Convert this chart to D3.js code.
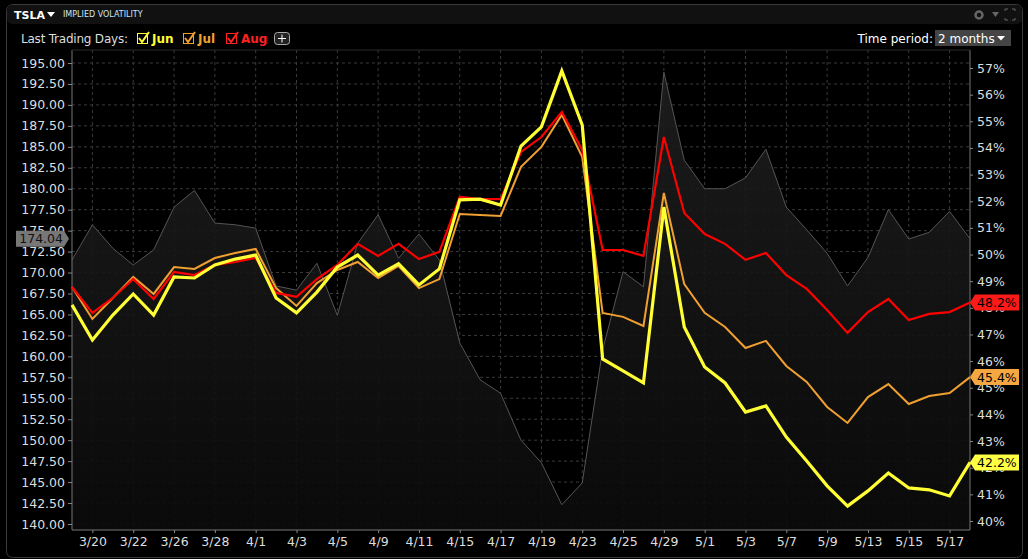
<!DOCTYPE html>
<html><head><meta charset="utf-8">
<script src="https://cdn.jsdelivr.net/npm/d3@7"></script>
<style>body{margin:0;background:#000;overflow:hidden}svg{display:block;font-family:"DejaVu Sans",sans-serif}</style>
</head><body><svg id="c" width="1028" height="559"></svg>
<script>
const dates=["3/19","3/20","3/21","3/22","3/25","3/26","3/27","3/28","3/29","4/1","4/2","4/3","4/4","4/5","4/8","4/9","4/10","4/11","4/12","4/15","4/16","4/17","4/18","4/19","4/22","4/23","4/24","4/25","4/26","4/29","4/30","5/1","5/2","5/3","5/6","5/7","5/8","5/9","5/10","5/13","5/14","5/15","5/16","5/17","5/20"];
const tickLabels=["3/20","3/22","3/26","3/28","4/1","4/3","4/5","4/9","4/11","4/15","4/17","4/19","4/23","4/25","4/29","5/1","5/3","5/7","5/9","5/13","5/15","5/17"];
const price=[171.5,175.7,172.9,170.9,172.7,177.8,179.8,175.9,175.7,175.3,168.4,167.9,171.1,164.9,173.5,176.9,171.7,174.6,171.5,161.6,157.2,155.6,150.0,147.3,142.3,144.9,160.8,170.1,168.3,193.9,183.4,180.0,180.0,181.3,184.7,177.8,175.1,172.3,168.4,171.8,177.5,174.0,174.8,177.3,174.04];
const jun=[48.11,46.79,47.73,48.52,47.73,49.16,49.12,49.61,49.83,49.98,48.37,47.81,48.59,49.53,49.98,49.23,49.65,48.86,49.46,52.05,52.08,51.86,54.07,54.79,56.89,54.86,46.08,45.63,45.18,51.78,47.28,45.78,45.18,44.09,44.32,43.15,42.25,41.32,40.56,41.13,41.80,41.24,41.17,40.94,42.2];
const jul=[48.78,47.58,48.37,49.16,48.52,49.53,49.46,49.87,50.06,50.21,48.74,48.07,48.93,49.42,49.72,49.12,49.57,48.74,49.08,51.52,51.48,51.45,53.29,54.04,55.24,53.66,47.81,47.66,47.32,52.31,48.89,47.81,47.28,46.49,46.76,45.82,45.22,44.28,43.68,44.65,45.14,44.39,44.69,44.80,45.4];
const aug=[48.78,47.81,48.37,49.08,48.33,49.35,49.23,49.61,49.72,49.87,48.56,48.41,49.08,49.61,50.40,49.95,50.40,49.83,50.10,52.16,52.08,52.08,53.85,54.41,55.35,53.92,50.17,50.17,49.95,54.41,51.56,50.77,50.40,49.80,50.06,49.23,48.71,47.92,47.06,47.84,48.33,47.54,47.77,47.84,48.2];
const leftTicks=d3.range(140,195.01,2.5);
const rightTicks=d3.range(40,57.01,1);
const series=[{name:"Jul",v:jul,c:"#f0a030",w:2,bg:"#f5a742"},{name:"Aug",v:aug,c:"#ff0000",w:2.2,bg:"#ff1a1a"},{name:"Jun",v:jun,c:"#ffff33",w:3.2,bg:"#ffff44"}];

const svg=d3.select("#c");
const L=72,R=970,T=50,B=530,FS=12;
const x=d3.scaleLinear().domain([0,dates.length-1]).range([L,R]);
const yP=d3.scaleLinear().domain([140,195]).range([524,63]);
const yV=d3.scaleLinear().domain([40,57]).range([521,68]);

svg.append("rect").attr("width",1028).attr("height",559).attr("fill","#000");
svg.append("rect").attr("x",6.5).attr("y",4.5).attr("width",1016).attr("height",553).attr("rx",6).attr("fill","#000").attr("stroke","#3a3a3a");
svg.append("rect").attr("x",7).attr("y",5).attr("width",1015).attr("height",19).attr("rx",5).attr("fill","#111");
svg.append("text").attr("x",14).attr("y",19).attr("fill","#fff").attr("font-size",11).attr("font-weight","bold").text("TSLA");
svg.append("path").attr("d","M47,12 l8,0 l-4,5z").attr("fill","#fff");
svg.append("text").attr("x",63).attr("y",17).attr("fill","#cfe3f0").attr("font-size",8).text("IMPLIED VOLATILITY");
svg.append("circle").attr("cx",979).attr("cy",15).attr("r",3.5).attr("fill","none").attr("stroke","#666").attr("stroke-width",2.5);
svg.append("path").attr("d","M992,12 l7,0 l-3.5,5z").attr("fill","#666");
svg.append("path").attr("d","M1005,11 v-2 h3 M1012,9 h3 v2 M1015,18 v2 h-3 M1008,20 h-3 v-2").attr("stroke","#666").attr("fill","none");

svg.append("text").attr("x",21).attr("y",43).attr("fill","#ddd").attr("font-size",FS).attr("textLength",107).text("Last Trading Days:");
const lg=[["Jun","#ffff33",137],["Jul","#f0a030",183],["Aug","#ff2020",226]];
lg.forEach(([n,c,lx])=>{
  svg.append("rect").attr("x",lx+0.5).attr("y",33.5).attr("width",10).attr("height",10).attr("fill","none").attr("stroke",c);
  svg.append("path").attr("d",`M${lx+2},38 l3,4 l7,-10`).attr("stroke",c).attr("stroke-width",2).attr("fill","none");
  svg.append("text").attr("x",lx+15).attr("y",43).attr("fill",c).attr("font-size",FS).attr("font-weight","bold").text(n);
});
svg.append("rect").attr("x",274.5).attr("y",32.5).attr("width",15).attr("height",12).attr("rx",3).attr("fill","#222").attr("stroke","#aaa");
svg.append("path").attr("d","M278,38.5 h8 M282,34.5 v8").attr("stroke","#fff");
svg.append("text").attr("x",933).attr("y",43).attr("text-anchor","end").attr("fill","#fff").attr("font-size",FS).text("Time period:");
svg.append("rect").attr("x",935).attr("y",30).attr("width",76).attr("height",16).attr("fill","#444");
svg.append("text").attr("x",938).attr("y",43).attr("fill","#fff").attr("font-size",FS).text("2 months");
svg.append("path").attr("d","M997,36 l8,0 l-4,4.5z").attr("fill","#fff");

const g=svg.append("g");
leftTicks.forEach(t=>g.append("line").attr("x1",L).attr("x2",R).attr("y1",yP(t)).attr("y2",yP(t)).attr("stroke","#3a3a3a").attr("stroke-dasharray","3,3"));
tickLabels.forEach(t=>{const i=dates.indexOf(t);g.append("line").attr("x1",x(i)).attr("x2",x(i)).attr("y1",T).attr("y2",B).attr("stroke","#3a3a3a").attr("stroke-dasharray","3,3");});

const grad=svg.append("defs").append("linearGradient").attr("id","pg").attr("x1",0).attr("x2",0).attr("y1",0).attr("y2",1);
grad.append("stop").attr("offset","0").attr("stop-color","#1e1e1e");
grad.append("stop").attr("offset","1").attr("stop-color","#0b0b0b");
svg.append("path").datum(price).attr("fill","url(#pg)").attr("opacity",0.9)
 .attr("d",d3.area().x((d,i)=>x(i)).y0(B).y1(d=>yP(d)));
svg.append("path").datum(price).attr("fill","none").attr("stroke","#555").attr("stroke-width",1)
 .attr("d",d3.line().x((d,i)=>x(i)).y(d=>yP(d)));

svg.append("line").attr("x1",L).attr("x2",L).attr("y1",T).attr("y2",B).attr("stroke","#777");
svg.append("line").attr("x1",R).attr("x2",R).attr("y1",T).attr("y2",B).attr("stroke","#777");
svg.append("line").attr("x1",L).attr("x2",R).attr("y1",B).attr("y2",B).attr("stroke","#777");
svg.append("line").attr("x1",L).attr("x2",R).attr("y1",T).attr("y2",T).attr("stroke","#2a2a2a");

const ax=svg.append("g").attr("transform",`translate(${L},0)`).call(d3.axisLeft(yP).tickValues(leftTicks).tickFormat(d3.format(".2f")).tickSize(4).tickPadding(3));
const ax2=svg.append("g").attr("transform",`translate(${R},0)`).call(d3.axisRight(yV).tickValues(rightTicks).tickFormat(d=>d+"%").tickSize(3).tickPadding(4));
const ax3=svg.append("g").attr("transform",`translate(0,${B})`).call(d3.axisBottom(x).tickValues(tickLabels.map(t=>dates.indexOf(t))).tickFormat(i=>dates[i]).tickSize(3).tickPadding(4));
[ax,ax2,ax3].forEach(a=>{a.select(".domain").remove();a.selectAll("line").attr("stroke","#888");a.selectAll("text").attr("fill","#ddd").attr("font-size",12.5).attr("font-family","DejaVu Sans");});

series.forEach(s=>{
  svg.append("path").datum(s.v).attr("fill","none").attr("stroke",s.c).attr("stroke-width",s.w).attr("stroke-linejoin","miter")
   .attr("d",d3.line().x((d,i)=>x(i)).y(d=>yV(d)));
});
series.forEach(s=>{
  const v=s.v[s.v.length-1],yy=yV(v);
  svg.append("path").attr("d",`M${R},${yy} l5,-8 h44 v16 h-44z`).attr("fill",s.bg);
  svg.append("text").attr("x",R+7).attr("y",yy+4.5).attr("fill","#000").attr("font-size",12.5).text(v.toFixed(1)+"%");
});
const pv=price[price.length-1],py=yP(pv);
svg.append("path").attr("d",`M${L-3},${py} l-5,-8 h-48 v16 h48z`).attr("fill","#777");
svg.append("text").attr("x",L-9).attr("y",py+4.5).attr("text-anchor","end").attr("fill","#111").attr("font-size",12.5).text(pv.toFixed(2));
</script></body></html>
